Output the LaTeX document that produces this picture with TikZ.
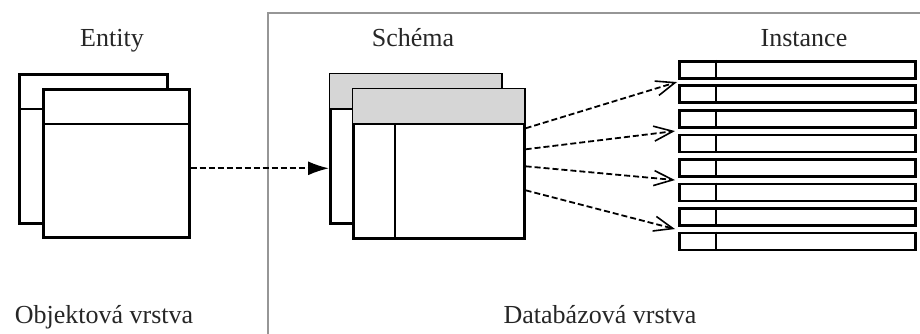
\documentclass[tikz,border=0pt]{standalone}
\usepackage{fontspec}
\setmainfont{Liberation Serif}
\usetikzlibrary{arrows.meta,calc}
\definecolor{headgray}{RGB}{214,214,214}
\definecolor{framegray}{RGB}{150,150,150}
\tikzset{
  card/.style={draw=black, line width=2.6pt, fill=white, rectangle, inner sep=0pt, anchor=north west},
  rowbox/.style={draw=black, line width=2.6pt, fill=white, rectangle, inner sep=0pt, anchor=north west,
                 minimum width=236pt, minimum height=17pt},
  divider/.style={line width=2.2pt},
  caption/.style={font=\fontsize{26}{29}\selectfont, text=black!85, anchor=base, inner sep=0pt},
  link/.style={line width=1.8pt, dash pattern=on 6pt off 3pt},
  opentip/.style={link, -{Straight Barb[length=19pt,width=15pt,line width=1.6pt]}},
  solidtip/.style={link, -{Latex[length=21pt,width=14pt]}}
}
\begin{document}
\begin{tikzpicture}[x=1pt,y=-1pt]
\useasboundingbox (0,0) rectangle (920,334);

% layer boundary of the database side
\draw[framegray, line width=2pt] (268,334) -- (268,13) -- (921,13);

% entity cards
\node[card, minimum width=148pt, minimum height=149pt] (eback) at (18,73) {};
\draw[divider] (eback.west |- 0,109) -- (eback.east |- 0,109);
\node[card, minimum width=146pt, minimum height=148pt] (efront) at (42,88) {};
\draw[divider] (efront.west |- 0,124) -- (efront.east |- 0,124);

% schema cards
\node[card, minimum width=171pt, minimum height=149pt] (sback) at (329,73) {};
\fill[headgray] ([shift={(1.3pt,-1.3pt)}]sback.north west) rectangle ([xshift=-1.3pt]sback.east |- 0,109);
\draw[divider] (sback.west |- 0,109) -- (sback.east |- 0,109);
\node[card, minimum width=171pt, minimum height=149pt] (sfront) at (352,88) {};
\fill[headgray] ([shift={(1.3pt,-1.3pt)}]sfront.north west) rectangle ([xshift=-1.3pt]sfront.east |- 0,124);
\draw[divider] (sfront.west |- 0,124) -- (sfront.east |- 0,124);
\draw[divider] (395,124) -- (395,0 |- sfront.south);

% instance rows
\foreach \i in {1,...,8} {
  \node[rowbox] (r\i) at (678,{60+24.5*(\i-1)}) {};
  \draw[divider] (716,0 |- r\i.north) -- (716,0 |- r\i.south);
}

% captions
\node[caption] (tentity) at (112,47) {Entity};
\node[caption] (tschema) at (413,47) {Schéma};
\node[caption] (tinst) at (804,47) {Instance};
\node[caption] (tobj) at (104,323) {Objektová vrstva};
\node[caption] (tdb) at (600,323) {Databázová vrstva};

% entity to schema
\draw[solidtip] ([yshift=-5pt]efront.east) -- ([yshift=-5pt]efront.east -| sback.west);

% schema to instances
\draw[opentip] ([yshift=35.5pt]sfront.east) -- ($(r1.south west)!0.5!(r2.north west)+(-1,0)$);
\draw[opentip] ([yshift=14.5pt]sfront.east) -- ($(r3.south west)!0.5!(r4.north west)+(-3,0)$);
\draw[opentip] ([yshift=-2.5pt]sfront.east) -- ($(r5.south west)!0.5!(r6.north west)+(-3,0)$);
\draw[opentip] ([yshift=-26.5pt]sfront.east) -- ($(r7.south west)!0.5!(r8.north west)+(-3,0)$);
\end{tikzpicture}
\end{document}
